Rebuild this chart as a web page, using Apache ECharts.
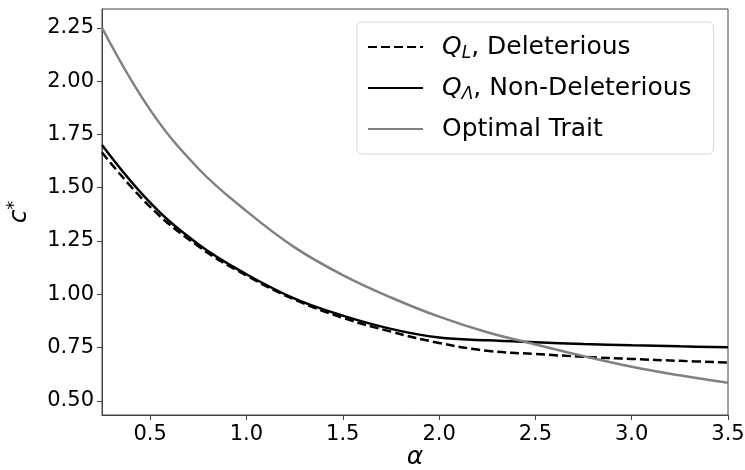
<!DOCTYPE html>
<html>
<head>
<meta charset="utf-8" />
<title>c* vs alpha</title>
<script src="https://cdn.jsdelivr.net/npm/echarts@6/dist/echarts.min.js"></script>
</head>
<body style="margin:0;">
<div id="chart" style="width:745px;height:470px;"></div>
<script>
// values
var alphaVals = [0.25, 0.5, 0.75, 1.0, 1.25, 1.5, 1.75, 2.0, 2.25, 2.5, 2.75, 3.0, 3.25, 3.5];
var deleterious = [1.665, 1.41, 1.225, 1.088, 0.975, 0.89, 0.825, 0.772, 0.735, 0.72, 0.707, 0.697, 0.688, 0.68];
var nonDeleterious = [1.70, 1.43, 1.235, 1.094, 0.98, 0.90, 0.838, 0.797, 0.784, 0.775, 0.767, 0.761, 0.756, 0.752];
var optimalTrait = [2.25, 1.865, 1.59, 1.39, 1.22, 1.09, 0.985, 0.895, 0.822, 0.765, 0.71, 0.66, 0.62, 0.585];
var xTicks = [0.5, 1.0, 1.5, 2.0, 2.5, 3.0, 3.5];
var yTicks = [0.5, 0.75, 1.0, 1.25, 1.5, 1.75, 2.0, 2.25];

function pairs(ys) {
    var res = [];
    for (var i = 0; i < alphaVals.length; i++) {
        res.push([alphaVals[i], ys[i]]);
    }
    return res;
}

var font = 'DejaVu Sans';
var chart = echarts.init(document.getElementById('chart'));
var option = {
    backgroundColor: '#fff',
    animation: false,
    grid: {
        left: 102, right: 17, top: 9, bottom: 55,
        outerBoundsMode: 'none',
        containLabel: false,
        show: true, borderColor: '#444', borderWidth: 1
    },
    legend: {
        left: 357, top: 22,
        orient: 'vertical',
        padding: [10, 22, 10, 10],
        itemGap: 11,
        itemWidth: 55,
        itemHeight: 14,
        borderColor: '#d8d8d8',
        borderWidth: 1,
        borderRadius: 5,
        itemStyle: { opacity: 0 },
        data: ['QL', 'QA', 'Optimal Trait'],
        formatter: function (name) {
            if (name === 'QL') return '{i|Q}{s|L}, Deleterious';
            if (name === 'QA') return '{i|Q}{s|Λ}, Non-Deleterious';
            return name;
        },
        textStyle: {
            fontFamily: font, fontSize: 25, color: '#000', lineHeight: 30,
            padding: [0, 0, 0, 14],
            rich: {
                i: { fontFamily: font, fontSize: 25, fontStyle: 'italic', color: '#000' },
                s: { fontFamily: font, fontSize: 17, fontStyle: 'italic', color: '#000', verticalAlign: 'bottom', padding: [12, 0, 0, 0] }
            }
        }
    },
    xAxis: {
        type: 'value',
        min: 0.25, max: 3.5,
        name: 'α',
        nameLocation: 'middle',
        nameGap: 30,
        nameMoveOverlap: false,
        nameTextStyle: { fontFamily: font, fontSize: 25, fontStyle: 'italic', color: '#000' },
        splitLine: { show: false },
        axisLine: { lineStyle: { color: '#444' } },
        axisTick: { show: true, length: 5, customValues: xTicks, lineStyle: { color: '#444' } },
        axisLabel: {
            customValues: xTicks,
            fontFamily: font, fontSize: 21, color: '#000', margin: 9,
            formatter: function (v) { return v.toFixed(1); }
        }
    },
    yAxis: {
        type: 'value',
        min: 0.434, max: 2.338,
        name: '{c|c}{s|*}',
        nameLocation: 'middle',
        nameGap: 69,
        nameRotate: 90,
        nameTextStyle: {
            rich: {
                c: { fontFamily: font, fontSize: 25, fontStyle: 'italic', color: '#000' },
                s: { fontFamily: font, fontSize: 18, color: '#000', verticalAlign: 'top', padding: [0, 0, 10, 0] }
            }
        },
        splitLine: { show: false },
        axisLine: { show: true, lineStyle: { color: '#444' } },
        axisTick: { show: true, length: 5, customValues: yTicks, lineStyle: { color: '#444' } },
        axisLabel: {
            customValues: yTicks,
            fontFamily: font, fontSize: 21, color: '#000', margin: 8,
            formatter: function (v) { return v.toFixed(2); }
        }
    },
    series: [{
        name: 'QL',
        type: 'line',
        data: pairs(deleterious),
        smooth: 0.4,
        symbol: 'none',
        itemStyle: { color: '#000' },
        lineStyle: { color: '#000', width: 2.5, type: [9, 4] }
    }, {
        name: 'QA',
        type: 'line',
        data: pairs(nonDeleterious),
        smooth: 0.4,
        symbol: 'none',
        itemStyle: { color: '#000' },
        lineStyle: { color: '#000', width: 2.5 }
    }, {
        name: 'Optimal Trait',
        type: 'line',
        data: pairs(optimalTrait),
        smooth: 0.4,
        symbol: 'none',
        itemStyle: { color: '#808080' },
        lineStyle: { color: '#808080', width: 2.5 }
    }]
};
chart.setOption(option);
</script>
</body>
</html>
